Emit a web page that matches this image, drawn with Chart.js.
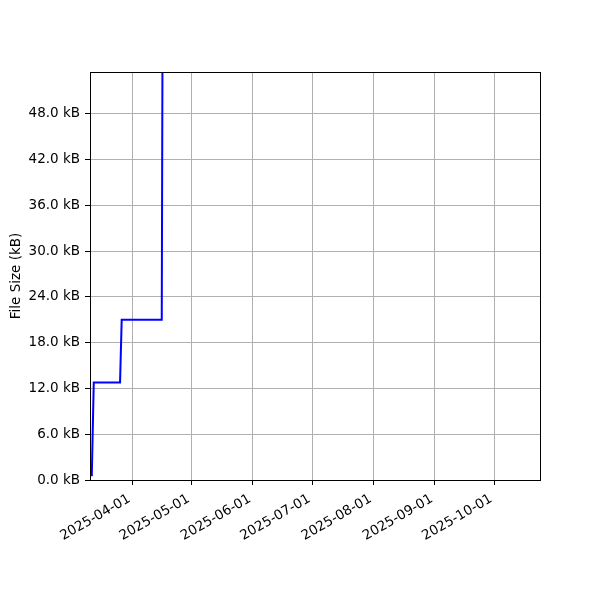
<!DOCTYPE html>
<html>
<head>
<meta charset="utf-8">
<script src="https://cdn.jsdelivr.net/npm/chart.js@4/dist/chart.umd.min.js"></script>
<style>
  html, body { margin: 0; padding: 0; background: #ffffff; }
  #c { display: block; }
</style>
</head>
<body>
<canvas id="c" width="600" height="600"></canvas>
<script>
// ---- data ----
const commitDates = [
  '2025-03-11T12:00:00Z',
  '2025-03-12T12:00:00Z',
  '2025-03-25T19:00:00Z',
  '2025-03-26T15:00:00Z',
  '2025-04-15T21:00:00Z',
  '2025-04-16T16:00:00Z'
];
const fileSizesKB = [0.5, 12.8, 12.8, 21.0, 21.0, 96.0];

const xRangeStart = '2025-03-10T14:24:00Z';
const xRangeEnd = '2025-10-24T02:24:00Z';
const xTickLabels = ['2025-04-01', '2025-05-01', '2025-06-01', '2025-07-01', '2025-08-01', '2025-09-01', '2025-10-01'];
const yTickValues = [0, 6, 12, 18, 24, 30, 36, 42, 48];
const yMaxKB = 53.5;
const yAxisLabel = 'File Size (kB)';

// ---- chart ----
const FONT = 'DejaVu Sans';
const FONT_SIZE = 13.5;
const points = commitDates.map((d, i) => ({ x: Date.parse(d), y: fileSizesKB[i] }));

const frame = {
  id: 'frame',
  afterDatasetsDraw(chart) {
    const a = chart.chartArea, ctx = chart.ctx;
    ctx.save();
    ctx.strokeStyle = '#000000';
    ctx.lineWidth = 1;
    ctx.strokeRect(Math.round(a.left) + 0.5, Math.round(a.top) + 0.5,
                   Math.round(a.right - a.left), Math.round(a.bottom - a.top));
    ctx.restore();
  }
};

new Chart(document.getElementById('c'), {
  type: 'line',
  data: {
    datasets: [{
      data: points,
      borderColor: '#0000ff',
      borderWidth: 2,
      pointRadius: 0,
      tension: 0,
      fill: false
    }]
  },
  options: {
    responsive: false,
    animation: false,
    devicePixelRatio: 1,
    layout: { padding: { left: 0, top: 72, right: 60, bottom: 0 } },
    plugins: { legend: { display: false }, tooltip: { enabled: false } },
    scales: {
      x: {
        type: 'linear',
        min: Date.parse(xRangeStart),
        max: Date.parse(xRangeEnd),
        afterBuildTicks(scale) {
          scale.ticks = xTickLabels.map(s => ({ value: Date.parse(s + 'T00:00:00Z') }));
        },
        afterFit(scale) { scale.height = 120; },
        grid: { color: '#b0b0b0', lineWidth: 1, tickColor: '#000000', tickLength: 5, drawTicks: true },
        border: { display: true, color: '#000000', width: 1 },
        ticks: {
          autoSkip: false,
          maxRotation: 30,
          minRotation: 30,
          padding: 6,
          labelOffset: -3,
          color: '#000000',
          font: { family: FONT, size: FONT_SIZE },
          callback: (v, i) => xTickLabels[i]
        }
      },
      y: {
        type: 'linear',
        min: 0,
        max: yMaxKB,
        afterBuildTicks(scale) {
          scale.ticks = yTickValues.map(v => ({ value: v }));
        },
        afterFit(scale) { scale.width = 90; },
        grid: { color: '#b0b0b0', lineWidth: 1, tickColor: '#000000', tickLength: 5, drawTicks: true },
        border: { display: true, color: '#000000', width: 1 },
        title: {
          display: true,
          text: yAxisLabel,
          color: '#000000',
          font: { family: FONT, size: FONT_SIZE },
          padding: { top: 8, bottom: 4 }
        },
        ticks: {
          autoSkip: false,
          padding: 5,
          color: '#000000',
          font: { family: FONT, size: FONT_SIZE },
          callback: v => v.toFixed(1) + ' kB'
        }
      }
    }
  },
  plugins: [frame]
});
</script>
</body>
</html>
